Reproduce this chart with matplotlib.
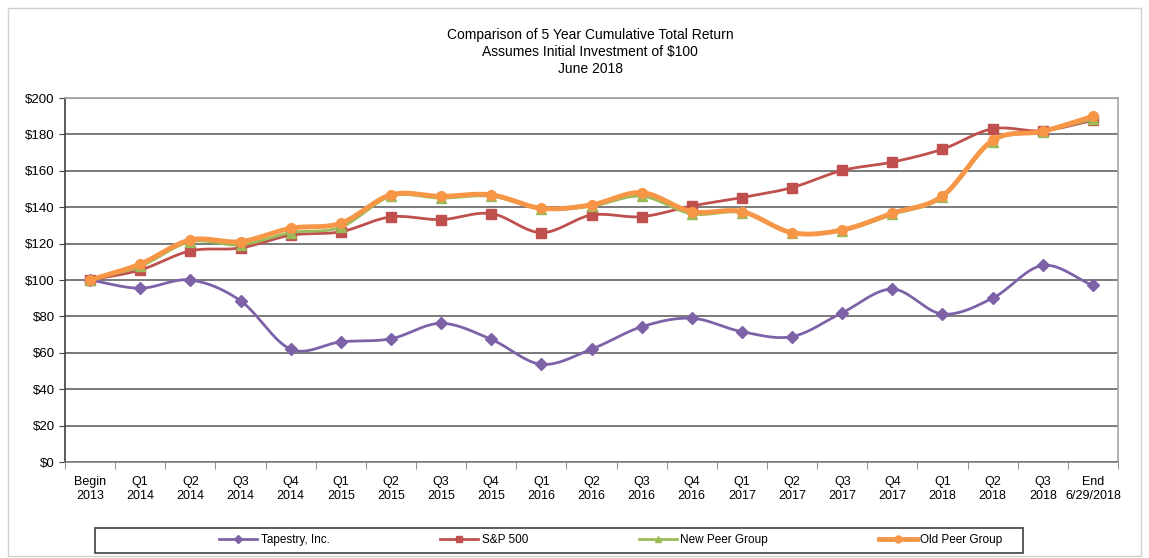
import numpy as np
import matplotlib.pyplot as plt
from matplotlib.lines import Line2D
from matplotlib.patches import Rectangle

plt.rcParams['font.family'] = ['Liberation Sans', 'DejaVu Sans']

# Datos
etiquetas = ['Begin\n2013', 'Q1\n2014', 'Q2\n2014', 'Q3\n2014', 'Q4\n2014',
             'Q1\n2015', 'Q2\n2015', 'Q3\n2015', 'Q4\n2015', 'Q1\n2016',
             'Q2\n2016', 'Q3\n2016', 'Q4\n2016', 'Q1\n2017', 'Q2\n2017',
             'Q3\n2017', 'Q4\n2017', 'Q1\n2018', 'Q2\n2018', 'Q3\n2018',
             'End\n6/29/2018']
tapestry = [100, 95.5, 100, 88.6, 62, 66, 67.7, 76.2, 67.4, 53.7, 62,
            74.3, 79, 71.6, 68.9, 82, 95, 81.3, 90, 108, 97]
sp500 = [100, 105.5, 116, 117.6, 124.6, 126.5, 134.7, 133.2, 136.5, 126,
         135.7, 134.8, 140.7, 145.3, 150.8, 160.2, 164.8, 171.9, 183.1, 182, 187.7]
new_peer = [100, 107.5, 121, 119.3, 126, 129, 146, 145, 146, 139, 140.5,
            146, 136.3, 137, 126, 127, 136, 145.5, 176, 181.5, 188.5]
old_peer = [100, 108.8, 122, 121.1, 128.4, 131.2, 146.8, 146, 146.8, 139.4,
            141.3, 148, 137.6, 137.6, 126, 127.5, 136.7, 146.2, 176.7, 181.7, 189.9]
nombres = ['Tapestry, Inc.', 'S&P 500', 'New Peer Group', 'Old Peer Group']


# Curva suavizada (Catmull-Rom) como las lineas suaves de Excel
def suavizar(y, n=20):
    y = np.asarray(y, dtype=float)
    x = np.arange(len(y), dtype=float)
    P = np.column_stack([x, y])
    P = np.vstack([2 * P[0] - P[1], P, 2 * P[-1] - P[-2]])
    t = np.linspace(0, 1, n, endpoint=False)[:, None]
    pts = []
    for i in range(1, len(P) - 2):
        p0, p1, p2, p3 = P[i - 1], P[i], P[i + 1], P[i + 2]
        c = 0.5 * ((2 * p1) + (-p0 + p2) * t + (2 * p0 - 5 * p1 + 4 * p2 - p3) * t ** 2
                   + (-p0 + 3 * p1 - 3 * p2 + p3) * t ** 3)
        pts.append(c)
    pts.append(P[-2][None, :])
    pts = np.vstack(pts)
    return pts[:, 0], pts[:, 1]


fig = plt.figure(figsize=(11.49, 5.58), dpi=100)
ax = fig.add_axes([65 / 1149, 1 - 462 / 558, 1053 / 1149, 364 / 558])

series = [
    (tapestry, '#7E62A8', 'D', 6, 2.0),
    (sp500, '#C0504D', 's', 7, 2.0),
    (new_peer, '#9BBB59', '^', 7, 2.0),
    (old_peer, '#F79646', 'o', 7, 3.5),
]
x = np.arange(len(etiquetas))
handles = []
for k, (vals, color, mk, ms, lw) in enumerate(series):
    xs, ys = suavizar(vals)
    ax.plot(xs, ys, color=color, lw=lw, zorder=3 + k, solid_capstyle='round')
    ax.plot(x, vals, ls='none', marker=mk, ms=ms, color=color, zorder=3 + k)
    handles.append(Line2D([], [], color=color, lw=lw, marker=mk, ms=ms - 2))

ax.set_xlim(-0.5, len(etiquetas) - 0.5)
ax.set_ylim(0, 200)
ax.set_yticks(np.arange(0, 201, 20))
ax.set_yticklabels([f'${v}' for v in range(0, 201, 20)], fontsize=9.5)
ax.yaxis.grid(True, color='#6F6F6F', lw=1.3)
ax.set_axisbelow(True)

ax.set_xticks(x)
ax.set_xticklabels(etiquetas, fontsize=9)
ax.tick_params(axis='x', length=0, pad=10)
ax.set_xticks(np.arange(-0.5, len(etiquetas), 1), minor=True)
ax.tick_params(axis='x', which='minor', length=5, color='#7F7F7F')
ax.tick_params(axis='y', length=4, color='#404040')

ax.spines['left'].set_color('#404040')
ax.spines['bottom'].set_color('#7F7F7F')
ax.spines['right'].set_color('#A6A6A6')
ax.spines['top'].set_color('#A6A6A6')
for s in ax.spines.values():
    s.set_linewidth(1.2)

fig.text(590 / 1149, 1 - 52 / 558,
         'Comparison of 5 Year Cumulative Total Return\n'
         'Assumes Initial Investment of $100\nJune 2018',
         ha='center', va='center', fontsize=10, linespacing=1.25)

# Marco de la leyenda y marco exterior
fig.add_artist(Rectangle((95 / 1149, 1 - 553 / 558), 928 / 1149, 25 / 558,
                         transform=fig.transFigure, fill=False, ec='#404040', lw=1.2))
fig.add_artist(Rectangle((8 / 1149, 2 / 558), 1133 / 1149, 548 / 558,
                         transform=fig.transFigure, fill=False, ec='#D0D0D0', lw=1))
fig.legend(handles, nombres, loc='center', bbox_to_anchor=(611 / 1149, 1 - 540 / 558),
           ncol=4, frameon=False, fontsize=8.5, handlelength=3.2, handletextpad=0.3,
           columnspacing=9.4)

plt.savefig('out.png', dpi=100)
